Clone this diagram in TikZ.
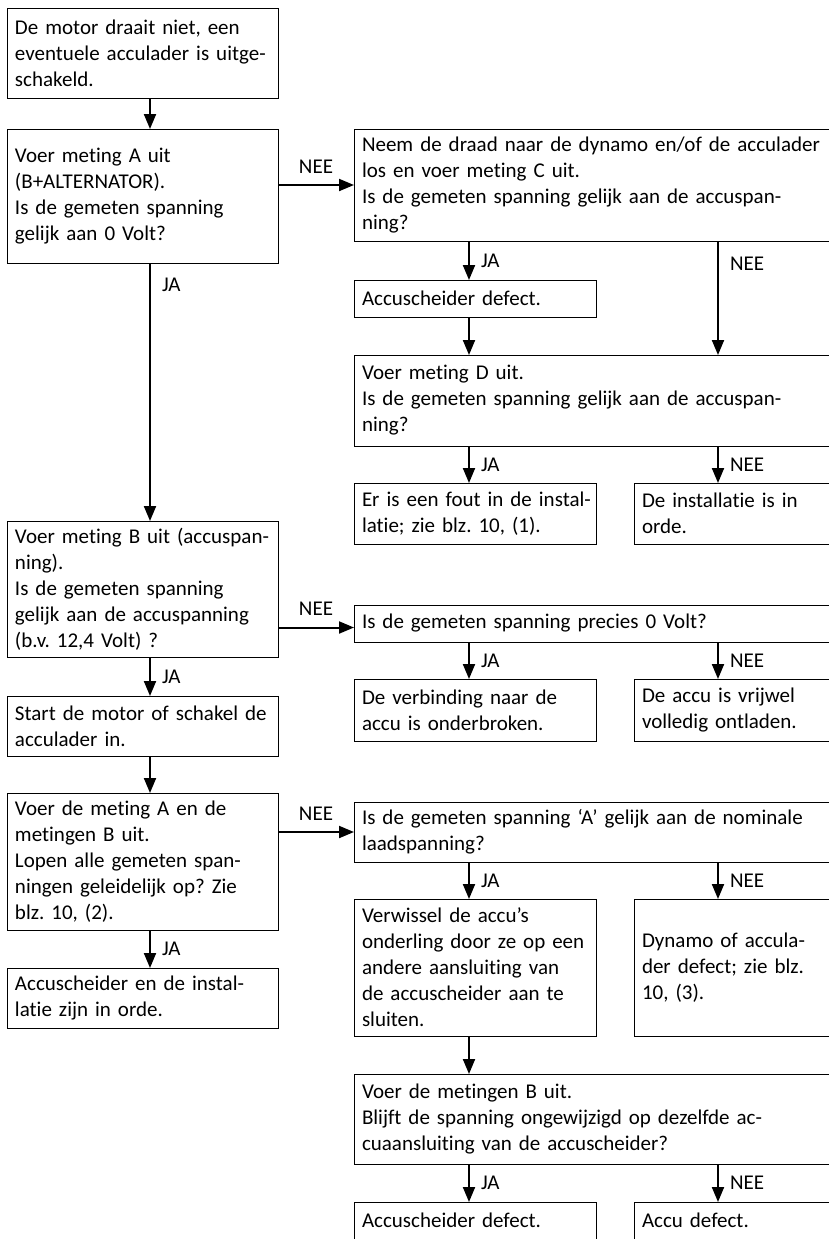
\documentclass[tikz,border=0pt]{standalone}
\usepackage{fontspec}
\setmainfont{Carlito}[Ligatures=NoCommon]
\usepackage{tikz}
\usetikzlibrary{arrows.meta}
\frenchspacing

\begin{document}
\begin{tikzpicture}[->,>={Triangle[length=7.5pt,width=6pt]}, line width=1pt, auto, inner sep=5.5pt, x=0.5pt, y=-0.5pt, font=\fontsize{10.5pt}{13pt}\selectfont]
	\tikzstyle{blok}=[draw=black,line width=0.5pt,align=left,anchor=north west,inner xsep=4pt,inner ysep=2pt,outer sep=0pt]
	\tikzstyle{links}=[text width=127.5pt]
	\tikzstyle{breed}=[text width=229.75pt]
	\tikzstyle{halfL}=[text width=113pt]
	\tikzstyle{halfR}=[text width=89.75pt]

	\useasboundingbox (0,0) rectangle (829,1239);

	\begin{scope}
		\node[blok,links,minimum height=45pt] (start) at (7,8) {De motor draait niet, een\\eventuele acculader is uitge-\\schakeld.};
		\node[blok,links,minimum height=67pt] (mA) at (7,129) {Voer meting A uit\\(B+ALTERNATOR).\\Is de gemeten spanning\\gelijk aan 0 Volt?};
		\node[blok,links,minimum height=68pt] (mB) at (7,521) {Voer meting B uit (accuspan-\\ning).\\Is de gemeten spanning\\gelijk aan de accuspanning\\(b.v. 12,4 Volt) ?};
		\node[blok,links,minimum height=30pt] (motor) at (7,696) {Start de motor of schakel de\\acculader in.};
		\node[blok,links,minimum height=68.5pt] (mAB) at (7,793) {Voer de meting A en de\\metingen B uit.\\Lopen alle gemeten span-\\ningen geleidelijk op? Zie\\blz. 10, (2).};
		\node[blok,links,minimum height=30pt] (inorde) at (7,968) {Accuscheider en de instal-\\latie zijn in orde.};

		\node[blok,breed,minimum height=56pt] (mC) at (354,129) {Neem de draad naar de dynamo en/of de acculader\\los en voer meting C uit.\\Is de gemeten spanning gelijk aan de accuspan-\\ning?};
		\node[blok,halfL,minimum height=18.5pt] (def1) at (354,280) {Accuscheider defect.};
		\node[blok,breed,minimum height=45.5pt] (mD) at (354,355) {Voer meting D uit.\\Is de gemeten spanning gelijk aan de accuspan-\\ning?};
		\node[blok,halfL,minimum height=30.5pt] (fout) at (354,483) {\mbox{Er is een fout in de instal-}\\latie; zie blz. 10, (1).};
		\node[blok,halfR,minimum height=30.5pt] (orde) at (634,483) {De installatie is in\\orde.};

		\node[blok,breed,minimum height=18.5pt] (nul) at (354,605) {Is de gemeten spanning precies 0 Volt?};
		\node[blok,halfL,minimum height=31pt] (verb) at (354,679) {De verbinding naar de\\accu is onderbroken.};
		\node[blok,halfR,minimum height=31pt] (leeg) at (634,679) {De accu is vrijwel\\volledig ontladen.};

		\node[blok,breed,minimum height=30pt] (nom) at (354,802) {Is de gemeten spanning ‘A’ gelijk aan de nominale\\laadspanning?};
		\node[blok,halfL,minimum height=68.5pt] (wissel) at (354,899) {Verwissel de accu’s\\onderling door ze op een\\andere aansluiting van\\de accuscheider aan te\\sluiten.};
		\node[blok,halfR,minimum height=68.5pt] (dyn) at (634,899) {Dynamo of accula-\\der defect; zie blz.\\10, (3).};
		\node[blok,breed,minimum height=45pt] (mBB) at (354,1074) {Voer de metingen B uit.\\Blijft de spanning ongewijzigd op dezelfde ac-\\cuaansluiting van de accuscheider?};
		\node[blok,halfL,minimum height=18.75pt] (def2) at (354,1202) {Accuscheider defect.};
		\node[blok,halfR,minimum height=18.75pt] (accu) at (634,1202) {Accu defect.};

		\draw ([xshift=71.5pt]start.south west) -- ([xshift=71.5pt]mA.north west);
		\draw (mA.east |- mC.west) -- node {NEE} (mC.west);
		\draw ([xshift=71.5pt]mA.south west) -- node[pos=0.085] {JA} ([xshift=71.5pt]mB.north west);
		\draw ([xshift=57.5pt]mC.south west) -- node {JA} ([xshift=57.5pt]def1.north west);
		\draw ([xshift=182pt]mC.south west) -- node[pos=0.2] {NEE} ([xshift=182pt]mD.north west);
		\draw ([xshift=57.5pt]def1.south west) -- ([xshift=57.5pt]mD.north west);
		\draw ([xshift=57.5pt]mD.south west) -- node {JA} ([xshift=57.5pt]fout.north west);
		\draw ([xshift=42pt]mD.south west -| orde.west) -- node {NEE} ([xshift=42pt]orde.north west);

		\draw ([yshift=-2pt]nul.west -| mB.east) -- node {NEE} ([yshift=-2pt]nul.west);
		\draw ([xshift=71.5pt]mB.south west) -- node {JA} ([xshift=71.5pt]motor.north west);
		\draw ([xshift=57.5pt]nul.south west) -- node {JA} ([xshift=57.5pt]verb.north west);
		\draw ([xshift=42pt]nul.south west -| leeg.west) -- node {NEE} ([xshift=42pt]leeg.north west);

		\draw ([xshift=71.5pt]motor.south west) -- ([xshift=71.5pt]mAB.north west);
		\draw (mAB.east |- nom.west) -- node {NEE} (nom.west);
		\draw ([xshift=71.5pt]mAB.south west) -- node {JA} ([xshift=71.5pt]inorde.north west);
		\draw ([xshift=57.5pt]nom.south west) -- node {JA} ([xshift=57.5pt]wissel.north west);
		\draw ([xshift=42pt]nom.south west -| dyn.west) -- node {NEE} ([xshift=42pt]dyn.north west);
		\draw ([xshift=57.5pt]wissel.south west) -- ([xshift=57.5pt]mBB.north west);
		\draw ([xshift=57.5pt]mBB.south west) -- node {JA} ([xshift=57.5pt]def2.north west);
		\draw ([xshift=42pt]mBB.south west -| accu.west) -- node {NEE} ([xshift=42pt]accu.north west);
	\end{scope}
\end{tikzpicture}
\end{document}
